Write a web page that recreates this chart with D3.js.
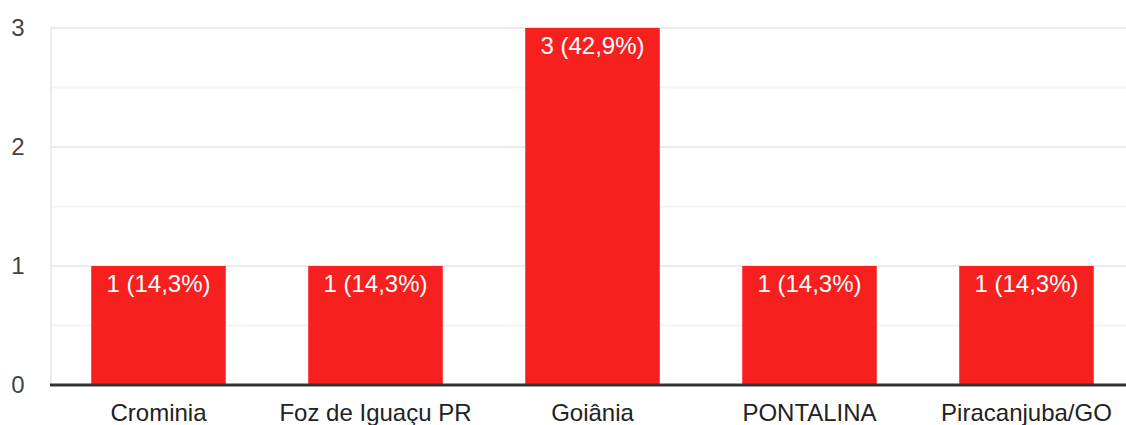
<!DOCTYPE html>
<html>
<head>
<meta charset="utf-8">
<script src="https://cdn.jsdelivr.net/npm/d3@7"></script>
<style>
  body { margin: 0; background: #fff; }
  text { font-family: Arial, "Liberation Sans", sans-serif; }
</style>
</head>
<body>
<svg id="chart" width="1126" height="425"></svg>
<script>
var cities = ["Crominia", "Foz de Iguaçu PR", "Goiânia", "PONTALINA", "Piracanjuba/GO"];
var counts = [1, 1, 3, 1, 1];
var labels = ["1 (14,3%)", "1 (14,3%)", "3 (42,9%)", "1 (14,3%)", "1 (14,3%)"];
var yTicks = [0, 1, 2, 3];
var yGrid = [0.5, 1, 1.5, 2, 2.5, 3];

var svg = d3.select("#chart");

var x = d3.scaleBand().domain(cities).range([50, 1135])
    .paddingInner(0.38).paddingOuter(0.19);
var y = d3.scaleLinear().domain([0, 3]).range([385, 28]);

// grid
svg.selectAll(".grid")
    .data(yGrid)
    .enter().append("line")
    .attr("class", "grid")
    .attr("x1", 50).attr("x2", 1126)
    .attr("y1", function(d) { return y(d); })
    .attr("y2", function(d) { return y(d); })
    .attr("stroke", function(d) { return d % 1 === 0 ? "#ebebeb" : "#f4f4f4"; })
    .attr("stroke-width", 2);

svg.append("line")
    .attr("x1", 51).attr("x2", 51)
    .attr("y1", y(3) - 1).attr("y2", y(0))
    .attr("stroke", "#ebebeb").attr("stroke-width", 2);

// bars
svg.selectAll(".bar")
    .data(counts)
    .enter().append("rect")
    .attr("class", "bar")
    .attr("x", function(d, i) { return x(cities[i]); })
    .attr("y", function(d) { return y(d); })
    .attr("width", x.bandwidth())
    .attr("height", function(d) { return y(0) - y(d); })
    .attr("fill", "#f8201e");

svg.selectAll(".val")
    .data(counts)
    .enter().append("text")
    .attr("class", "val")
    .attr("x", function(d, i) { return x(cities[i]) + x.bandwidth() / 2; })
    .attr("y", function(d) { return y(d) + 26; })
    .attr("text-anchor", "middle")
    .attr("fill", "#fff")
    .style("font-size", "24px")
    .text(function(d, i) { return labels[i]; });

// baseline
svg.append("line")
    .attr("x1", 50).attr("x2", 1126)
    .attr("y1", y(0)).attr("y2", y(0))
    .attr("stroke", "#333").attr("stroke-width", 3);

// y labels
svg.selectAll(".ylab")
    .data(yTicks)
    .enter().append("text")
    .attr("class", "ylab")
    .attr("x", 18)
    .attr("y", function(d) { return y(d) + 8; })
    .attr("text-anchor", "middle")
    .attr("fill", "#444")
    .style("font-size", "24px")
    .text(function(d) { return d; });

// x labels
svg.selectAll(".xlab")
    .data(cities)
    .enter().append("text")
    .attr("class", "xlab")
    .attr("x", function(d) { return x(d) + x.bandwidth() / 2; })
    .attr("y", 421)
    .attr("text-anchor", "middle")
    .attr("fill", "#222")
    .style("font-size", "24px")
    .text(function(d) { return d; });
</script>
</body>
</html>
